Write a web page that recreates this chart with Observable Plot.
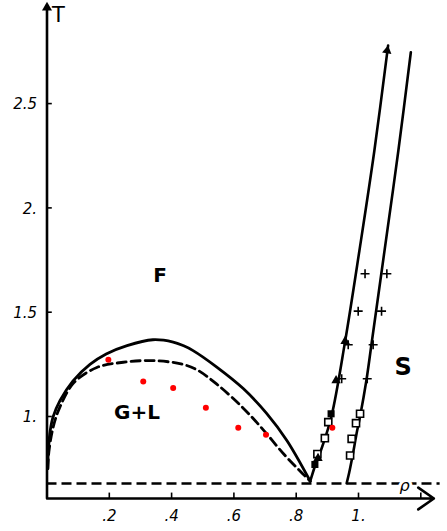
<!DOCTYPE html>
<html><head><meta charset="utf-8">
<script src="https://cdn.jsdelivr.net/npm/d3@7"></script>
<script src="https://cdn.jsdelivr.net/npm/@observablehq/plot@0.6"></script>
<style>html,body{margin:0;padding:0;background:#fff}svg{display:block}</style>
</head><body><div id="chart"></div>
<script>
// Liquid–gas coexistence curve (solid)
const solidRho = [0.002,0.005,0.010,0.020,0.042,0.083,0.138,0.190,0.257,0.340,0.405,0.437,0.469,0.545,0.630,0.705,0.770,0.845];
const solidT   = [0.75,0.85,0.93,1.00,1.077,1.17,1.25,1.30,1.34,1.368,1.357,1.34,1.316,1.237,1.134,1.015,0.885,0.69];
// Coexistence curve (dashed)
const dashRho = [0.003,0.006,0.020,0.040,0.085,0.160,0.245,0.340,0.430,0.480,0.545,0.630,0.695,0.760,0.820,0.845];
const dashT   = [0.75,0.83,0.95,1.04,1.16,1.235,1.26,1.268,1.252,1.225,1.155,1.04,0.935,0.82,0.727,0.69];
// Freezing line (left, arrow) and melting line (right)
const freezeRho = [0.845,0.862,0.880,0.913,0.957,1.003,1.051,1.095];
const freezeT   = [0.69,0.77,0.84,1.00,1.36,1.796,2.275,2.778];
const meltRho = [0.962,0.970,0.982,0.994,1.005,1.025,1.042,1.084,1.128,1.168];
const meltT   = [0.68,0.73,0.82,0.92,1.00,1.17,1.35,1.80,2.275,2.746];
// Triple-point temperature (dashed horizontal)
const tripleT = 0.679;
// Simulation markers
const plusRho = [1.021,0.999,0.967,0.946,1.091,1.074,1.047,1.028];
const plusT   = [1.684,1.505,1.344,1.181,1.684,1.505,1.344,1.181];
const triRho = [0.957,0.928,0.870];
const triT   = [1.361,1.173,0.80];
const fillSqRho = [0.912,0.860];
const fillSqT   = [1.013,0.77];
const openSqRho = [0.903,0.892,0.868,1.005,0.992,0.978,0.973];
const openSqT   = [0.973,0.896,0.82,1.013,0.968,0.893,0.813];
// Red points
const redRho = [0.197,0.309,0.405,0.510,0.614,0.703,0.916];
const redT   = [1.272,1.168,1.137,1.042,0.946,0.912,0.946];
// Axis ticks
const xTicks = [0.2,0.4,0.6,0.8,1.0,1.2];
const xTickLabels = [".2",".4",".6",".8","1.",""];
const yTicks = [1,1.5,2,2.5];
const yTickLabels = ["1.","1.5","2.","2.5"];
// Region labels
const regionNames = ["F","G+L","S"];
const regionRho = [0.363,0.289,1.143];
const regionT = [1.676,1.02,1.235];

const zip = (xs, ys) => xs.map((x, i) => ({x, y: ys[i]}));
const xMin = 0, xMax = 1.2857, yMin = 0.6069, yMax = 2.9942;
const font = "DejaVu Sans, sans-serif";

const plot = Plot.plot({
  width: 447, height: 531,
  marginLeft: 46.5, marginRight: 0, marginTop: 0, marginBottom: 33,
  x: {domain: [xMin, xMax], axis: null},
  y: {domain: [yMin, yMax], axis: null},
  style: {fontFamily: font, background: "white"},
  marks: [
    // triple-point dashed line
    Plot.ruleY([tripleT], {x1: 0, x2: 1.262, stroke: "black", strokeWidth: 2.6, strokeDasharray: "10,5"}),
    Plot.text(["ρ"], {x: 1.148, y: tripleT, text: d => d, fontSize: 16, fontStyle: "italic", stroke: "white", strokeWidth: 6, fill: "black", paintOrder: "stroke", dy: 2}),
    // curves
    Plot.line(zip(solidRho, solidT), {x: "x", y: "y", curve: "catmull-rom", stroke: "black", strokeWidth: 2.8}),
    Plot.line(zip(dashRho, dashT), {x: "x", y: "y", curve: "catmull-rom", stroke: "black", strokeWidth: 2.8, strokeDasharray: "9,5"}),
    Plot.line(zip(freezeRho, freezeT), {x: "x", y: "y", curve: "catmull-rom", stroke: "black", strokeWidth: 2.6}),
    Plot.line(zip(meltRho, meltT), {x: "x", y: "y", curve: "catmull-rom", stroke: "black", strokeWidth: 2.6}),
    Plot.dot([{x: freezeRho[freezeRho.length-1], y: freezeT[freezeT.length-1]}], {x: "x", y: "y", symbol: "triangle2", r: 4.5, fill: "black", rotate: 10, dx: -0.9, dy: 5}),
    // axes
    Plot.ruleX([0], {y1: yMin, y2: 2.97, stroke: "black", strokeWidth: 2.6}),
    Plot.dot([{x: 0, y: yMax}], {x: "x", y: "y", symbol: "triangle2", r: 4.8, fill: "black", dy: 7}),
    Plot.arrow([{x1: 0, y1: yMin, x2: 1.242, y2: yMin}], {x1: "x1", y1: "y1", x2: "x2", y2: "y2", stroke: "black", strokeWidth: 2.6, headLength: 11, headAngle: 70}),
    Plot.ruleX(xTicks, {x: d => d, y1: yMin, y2: yMin + 0.026, stroke: "black", strokeWidth: 1.6}),
    Plot.ruleY(yTicks, {y: d => d, x1: 0, x2: 0.017, stroke: "black", strokeWidth: 1.6}),
    Plot.text(xTicks, {x: d => d, y: yMin, text: (d, i) => xTickLabels[i], dy: 18, fontSize: 15, fontStyle: "italic", fill: "black"}),
    Plot.text(yTicks, {x: 0, y: d => d, text: (d, i) => yTickLabels[i], dx: -10, dy: 1, textAnchor: "end", fontSize: 15, fontStyle: "italic", fill: "black"}),
    Plot.text(["T"], {x: 0, y: 2.922, text: d => d, dx: 5, textAnchor: "start", fontSize: 21, fill: "black"}),
    // markers
    Plot.dot(zip(plusRho, plusT), {x: "x", y: "y", symbol: "plus", r: 3, stroke: "black", strokeWidth: 1.6}),
    Plot.dot(zip(openSqRho, openSqT), {x: "x", y: "y", symbol: "square2", r: 4.5, stroke: "black", strokeWidth: 1.6, fill: "white"}),
    Plot.dot(zip(fillSqRho, fillSqT), {x: "x", y: "y", symbol: "square", r: 4, fill: "black"}),
    Plot.dot(zip(triRho, triT), {x: "x", y: "y", symbol: "triangle2", r: 4.5, fill: "black"}),
    Plot.dot(zip(redRho, redT), {x: "x", y: "y", r: 3, fill: "#ff0000", stroke: "none"}),
    // region labels
    Plot.text(regionNames, {x: (d, i) => regionRho[i], y: (d, i) => regionT[i], text: d => d, fontSize: (d) => d === "S" ? 24 : 20, fontWeight: "bold", fill: "black"})
  ]
});
document.getElementById("chart").appendChild(plot);
</script>
</body></html>
